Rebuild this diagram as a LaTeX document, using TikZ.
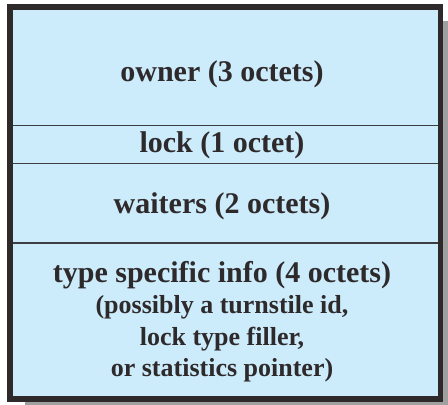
\documentclass[tikz,border=0pt]{standalone}
\usepackage{fontspec}
\setmainfont{Liberation Serif}
\definecolor{fieldfill}{RGB}{204,235,251}
\definecolor{framecol}{RGB}{46,42,43}
\definecolor{divcol}{RGB}{60,62,66}
\definecolor{shadowcol}{RGB}{160,160,160}
\begin{document}
\begin{tikzpicture}[x=1pt,y=-1pt,
  bigtext/.style={font=\bfseries\fontsize{30}{34}\selectfont, text=framecol, anchor=base, inner sep=0pt},
  smalltext/.style={font=\bfseries\fontsize{26}{30}\selectfont, text=framecol, anchor=base, inner sep=0pt},
  divider/.style={draw=divcol, line width=1.3pt}]
\useasboundingbox (0,0) rectangle (448,405);
% shadow
\fill[shadowcol] (25,21) rectangle (448,405);
% frame
\filldraw[fill=fieldfill, draw=framecol, line width=5.5pt] (10,7) rectangle (440.5,399);
% dividers
\coordinate (d1l) at (13,125.7); \coordinate (d1r) at (438,125.7);
\coordinate (d2l) at (13,163.7); \coordinate (d2r) at (438,163.7);
\coordinate (d3l) at (13,243);   \coordinate (d3r) at (438,243);
\draw[divider] (d1l) -- (d1r);
\draw[divider] (d2l) -- (d2r);
\draw[divider] (d3l) -- (d3r);
% texts
\node[bigtext] (owner) at (222,81.7) {owner (3 octets)};
\node[bigtext] (lock) at (222,152.7) {lock (1 octet)};
\node[bigtext] (waiters) at (222,213) {waiters (2 octets)};
\node[bigtext] (type) at (222,282) {type specific info (4 octets)};
\node[smalltext] (poss) at (222,313) {(possibly a turnstile id,};
\node[smalltext] (filler) at (222,345) {lock type filler,};
\node[smalltext] (stats) at (222,376) {or statistics pointer)};
\end{tikzpicture}
\end{document}
